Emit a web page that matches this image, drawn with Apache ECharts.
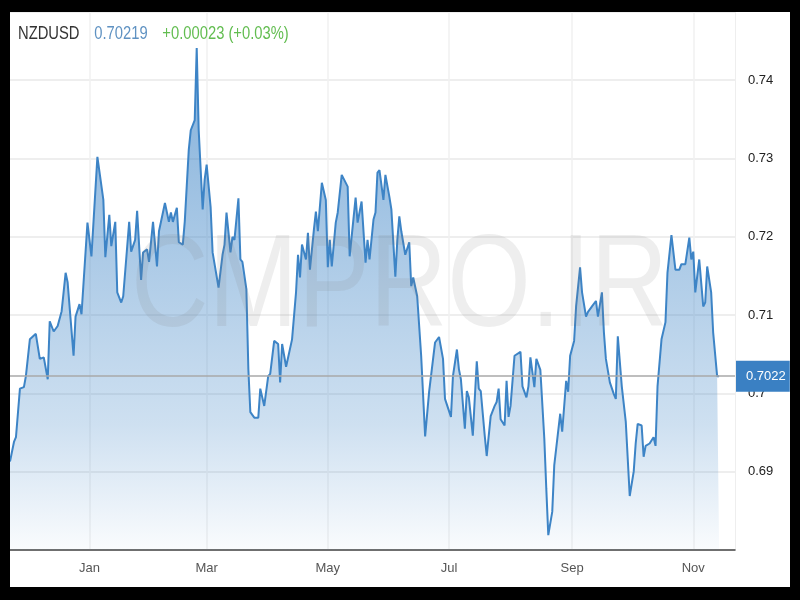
<!DOCTYPE html>
<html>
<head>
<meta charset="utf-8">
<script src="https://cdn.jsdelivr.net/npm/echarts@6/dist/echarts.min.js"></script>
<style>
html,body{margin:0;padding:0;background:#000;width:800px;height:600px;overflow:hidden;}
#chart{position:absolute;left:10px;top:12px;width:780px;height:575px;background:#fff;}
</style>
</head>
<body>
<div id="chart"></div>
<script>
// Calendar days shown on the x axis start here (one category per day)
const startDate = '2016-11-22';
const dayCount = 366;
const monthNames = ['Jan','Feb','Mar','Apr','May','Jun','Jul','Aug','Sep','Oct','Nov','Dec'];
const labelMonths = ['01','03','05','07','09','11'];
const yTicks = {min: 0.68, max: 0.7487, step: 0.01};

// Day offsets (from startDate) of the observations
const days = [
  0,2,3,5,7,8,9,10,13,15,
  17,19,20,22,24,26,28,29,32,33,
  35,36,39,41,44,47,48,50,51,53,
  54,56,57,60,61,63,64,66,67,69,
  70,72,74,75,78,80,81,82,84,85,
  87,88,90,91,93,94,95,97,98,99,
  101,102,105,107,108,109,111,112,113,115,
  116,117,119,120,121,123,125,126,128,130,
  131,133,135,136,137,139,140,142,144,145,
  146,147,149,150,151,153,154,155,157,159,
  160,161,162,164,165,167,170,171,174,175,
  177,179,180,181,183,184,185,186,188,189,
  191,192,194,195,196,197,199,201,202,203,
  205,207,209,211,213,214,216,218,219,220,
  222,223,225,226,227,229,230,231,233,235,
  236,237,239,240,242,244,245,246,247,249,
  250,251,252,254,255,257,258,260,261,262,
  264,265,267,269,270,271,273,274,277,278,
  280,281,282,284,285,287,288,290,291,293,
  295,296,298,299,300,302,304,305,306,308,
  309,310,312,314,315,316,318,319,320,322,
  324,325,326,328,330,331,333,335,337,338,
  340,342,343,344,345,347,349,350,351,353,
  354,356,357
];
// NZDUSD rate at those days
const rates = [
  0.6913,0.6938,0.6944,0.7006,0.7008,0.7022,0.7022,0.7069,0.7076,0.7044,
  0.7046,0.7018,0.7092,0.7079,0.7086,0.7105,0.7154,0.7142,0.7048,0.7098,
  0.7114,0.7101,0.7218,0.7175,0.7302,0.7247,0.7174,0.7228,0.7188,0.7219,
  0.7129,0.7116,0.7124,0.7219,0.7181,0.7196,0.7233,0.7145,0.7180,0.7184,
  0.7168,0.7219,0.7162,0.7207,0.7243,0.7219,0.7231,0.7219,0.7237,0.7193,
  0.7190,0.7220,0.7311,0.7336,0.7349,0.7441,0.7336,0.7235,0.7273,0.7292,
  0.7238,0.7180,0.7135,0.7177,0.7190,0.7231,0.7180,0.7200,0.7196,0.7249,
  0.7171,0.7168,0.7133,0.7031,0.6976,0.6969,0.6969,0.7006,0.6984,0.7022,
  0.7025,0.7067,0.7063,0.7014,0.7063,0.7034,0.7035,0.7069,0.7129,0.7177,
  0.7148,0.7190,0.7171,0.7205,0.7158,0.7209,0.7232,0.7207,0.7269,0.7247,
  0.7161,0.7196,0.7162,0.7218,0.7231,0.7279,0.7264,0.7175,0.7250,0.7218,
  0.7245,0.7167,0.7196,0.7171,0.7222,0.7231,0.7282,0.7285,0.7247,0.7279,
  0.7251,0.7235,0.7149,0.7196,0.7226,0.7207,0.7177,0.7193,0.7137,0.7148,
  0.7124,0.7048,0.6945,0.7002,0.7044,0.7065,0.7072,0.7044,0.6993,0.6995,
  0.6970,0.7022,0.7056,0.7031,0.7018,0.6955,0.7003,0.6995,0.6946,0.7041,
  0.7006,0.7003,0.6946,0.6920,0.6971,0.6984,0.6989,0.7006,0.6967,0.6959,
  0.7016,0.6970,0.6984,0.7048,0.7046,0.7053,0.7009,0.6995,0.7009,0.7046,
  0.7008,0.7044,0.7030,0.6942,0.6878,0.6819,0.6849,0.6908,0.6974,0.6951,
  0.7016,0.7002,0.7048,0.7067,0.7111,0.7161,0.7129,0.7098,0.7104,0.7111,
  0.7118,0.7098,0.7129,0.7078,0.7044,0.7014,0.6999,0.6993,0.7073,0.7009,
  0.7008,0.6964,0.6869,0.6900,0.6936,0.6961,0.6959,0.6919,0.6933,0.6936,
  0.6944,0.6933,0.7009,0.7069,0.7091,0.7154,0.7202,0.7158,0.7158,0.7165,
  0.7165,0.7199,0.7171,0.7181,0.7129,0.7171,0.7111,0.7116,0.7162,0.7129,
  0.7078,0.7022,0.70219
];
const symbolName = 'NZDUSD';
const lastPrice = '0.70219';
const change = '+0.00023 (+0.03%)';
const priceLevel = 0.7022;
const priceLabel = '0.7022';
const watermark = 'CMPRO.IR';

const FONT = '"Liberation Sans", Arial, sans-serif';

const categories = [];
{
  const base = new Date(startDate + 'T00:00:00Z');
  for (let i = 0; i < dayCount; i++) {
    const d = new Date(base.getTime() + i * 86400000);
    categories.push(d.toISOString().slice(0, 10));
  }
}
const isLabelDay = (v) => v.slice(8, 10) === '01' && labelMonths.indexOf(v.slice(5, 7)) >= 0;
const seriesData = days.map((d, i) => [d, rates[i]]);

const chart = echarts.init(document.getElementById('chart'));
chart.setOption({
  animation: false,
  backgroundColor: '#fff',
  textStyle: {fontFamily: FONT},
  grid: {left: 0, right: 55, top: 0, bottom: 37, containLabel: false},
  xAxis: {
    type: 'category',
    data: categories,
    boundaryGap: false,
    axisLine: {show: true, lineStyle: {color: '#454545', width: 1.5}},
    axisTick: {show: false},
    axisLabel: {
      interval: (i, v) => isLabelDay(v),
      formatter: (v) => monthNames[parseInt(v.slice(5, 7), 10) - 1],
      color: '#555', fontSize: 13, fontFamily: FONT, margin: 12
    },
    splitLine: {show: true, interval: (i, v) => isLabelDay(v), lineStyle: {color: '#f0f0f0', width: 1.5}}
  },
  yAxis: {
    type: 'value',
    position: 'right',
    min: yTicks.min, max: yTicks.max, interval: yTicks.step,
    axisLine: {show: true, lineStyle: {color: '#eeeeee'}},
    axisTick: {show: false},
    axisLabel: {showMinLabel: false, showMaxLabel: false, color: '#222', fontSize: 13, fontFamily: FONT, margin: 13},
    splitLine: {show: true, lineStyle: {color: '#e8e8e8', width: 1.5}}
  },
  graphic: [{
    type: 'text', x: 121, y: 278, z: 100, silent: true, scaleX: 0.82,
    style: {text: watermark, font: '131px ' + FONT, fill: 'rgba(120,120,120,0.13)', verticalAlign: 'middle'}
  }, {
    type: 'text', x: 8, y: 22, z: 100, silent: true, scaleX: 0.82,
    style: {
      text: '{a|' + symbolName + '}{b|' + lastPrice + '}{c|' + change + '}',
      verticalAlign: 'middle',
      rich: {
        a: {fontFamily: FONT, fontSize: 18, fill: '#333'},
        b: {fontFamily: FONT, fontSize: 18, fill: '#5f92c2', padding: [0, 0, 0, 18]},
        c: {fontFamily: FONT, fontSize: 18, fill: '#62bd50', padding: [0, 0, 0, 18]}
      }
    }
  }],
  series: [{
    type: 'line',
    data: seriesData,
    symbol: 'none',
    silent: true,
    lineStyle: {color: '#3d84c6', width: 2},
    areaStyle: {
      color: new echarts.graphic.LinearGradient(0, 0, 0, 1, [
        {offset: 0, color: 'rgba(61,132,198,0.92)'},
        {offset: 0.75, color: 'rgba(61,132,198,0.36)'},
        {offset: 1, color: 'rgba(61,132,198,0.04)'}
      ])
    },
    markLine: {
      silent: true,
      precision: 4,
      symbol: ['none', 'none'],
      lineStyle: {color: '#a8a8a8', type: 'solid', width: 1.5},
      label: {
        position: 'end', formatter: priceLabel, distance: 1,
        backgroundColor: '#3a80c3', color: '#fff', fontSize: 13, lineHeight: 15,
        fontFamily: FONT, padding: [8, 4, 8, 10]
      },
      data: [{yAxis: priceLevel}]
    }
  }]
});
</script>
</body>
</html>
